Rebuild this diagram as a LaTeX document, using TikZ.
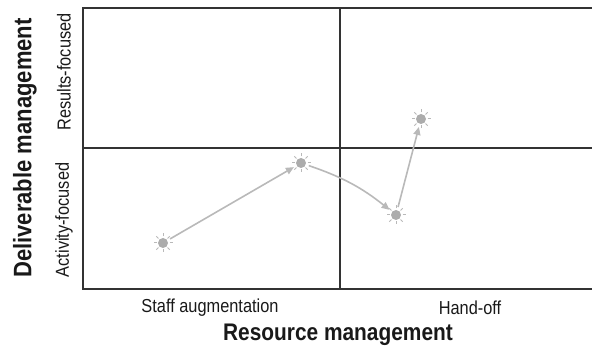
\documentclass[tikz,border=0pt]{standalone}
\usepackage{fontspec}
\setmainfont{Liberation Sans}[FakeStretch=0.87]
\usetikzlibrary{arrows.meta}
\definecolor{gridline}{RGB}{51,51,51}
\definecolor{sungray}{RGB}{172,172,172}
\definecolor{raygray}{RGB}{185,185,185}
\definecolor{trail}{RGB}{185,185,185}

\begin{document}
\begin{tikzpicture}[x=1pt, y=-1pt,
  sun/.style={circle, fill=sungray, minimum size=10pt, inner sep=0pt},
  ray/.style={raygray, line width=1pt},
  arr/.style={-{Triangle[length=8pt,width=7pt]}, trail, line width=1.6pt, shorten >=3pt, shorten <=3pt},
  axis/.style={font=\bfseries\fontsize{24}{27}\selectfont, text=black!90},
  tick/.style={font=\fontsize{18.8}{22}\selectfont, text=black!90},
]
\useasboundingbox (0,0) rectangle (592,352);

% frame and quadrants
\draw[gridline, line width=2pt] (592,8) -- (83,8) -- (83,289) -- (592,289);
\draw[gridline, line width=2pt] (340,8) -- (340,289);
\draw[gridline, line width=2pt] (83,148) -- (592,148);

% axis labels
\node[axis, rotate=90, font=\bfseries\fontsize{25.3}{28}\selectfont] (ylab) at (25,148) {Deliverable management};
\node[tick, rotate=90] (yres) at (64,72) {Results-focused};
\node[tick, rotate=90] (yact) at (64,220) {Activity-focused};
\node[tick] (xstaff) at (210,308) {Staff augmentation};
\node[tick] (xhand) at (470,308) {Hand-off};
\node[axis] (xlab) at (338,335) {Resource management};

% engagement path
\node[sun] (s1) at (163,243) {};
\node[sun] (s2) at (301,163) {};
\node[sun] (s3) at (396,215) {};
\node[sun] (s4) at (421,119) {};
\foreach \s in {s1,s2,s3,s4}
  \foreach \a in {0,45,...,315}
    \draw[ray] (\s.center) ++(\a:6.5) -- ++(\a:3);

\draw[arr] (s1) -- (s2);
\draw[arr] (s2) to[bend left=10] (s3);
\draw[arr] (s3) -- (s4);
\end{tikzpicture}
\end{document}
